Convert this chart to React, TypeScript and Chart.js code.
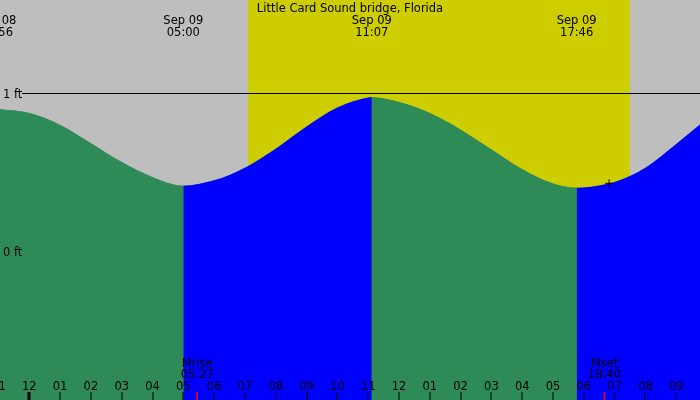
import React, { useEffect, useRef } from "react";
import { Chart, registerables } from "chart.js";

Chart.register(...registerables);

// hours counted from midnight Sep 09 (negative = Sep 08)
const tideHours = [-1, 0, 1, 2, 3, 4, 5, 6, 7, 8, 9, 10, 11, 11.117, 12, 13, 14, 15, 16, 17, 17.767, 18, 19, 20, 21, 22];
const tideFeet = [0.9, 0.875, 0.8, 0.685, 0.565, 0.47, 0.416, 0.45, 0.53, 0.65, 0.79, 0.91, 0.973, 0.975, 0.945, 0.875, 0.77, 0.645, 0.52, 0.43, 0.403, 0.405, 0.44, 0.53, 0.68, 0.84];

const extremeHours = [-1.067, 5.0, 11.117, 17.767];
const extremeDates = ["Sep 08", "Sep 09", "Sep 09", "Sep 09"];
const extremeTimes = ["22:56", "05:00", "11:07", "17:46"];

const moonHours = [5.45, 18.667];
const moonNames = ["Mrise", "Mset"];
const moonTimes = ["05:27", "18:40"];

const sunrise = 7.1;
const sunset = 19.5;

const hourTicks = [-1, 0, 1, 2, 3, 4, 5, 6, 7, 8, 9, 10, 11, 12, 13, 14, 15, 16, 17, 18, 19, 20, 21, 22];
const hourLabels = ["11", "12", "01", "02", "03", "04", "05", "06", "07", "08", "09", "10", "11", "12", "01", "02", "03", "04", "05", "06", "07", "08", "09", "10"];

const footLevels = [1, 0];
const footLabels = ["1 ft", "0 ft"];

const markerHours = [18.82];
const markerFeet = [0.431];

const title = "Little Card Sound bridge, Florida";

const NIGHT = "#bebebe";
const DAY = "#cdcd00";
const FALLING = "#2e8b57";
const RISING = "#0000ff";
const FONT = "11.5px 'DejaVu Sans'";

const decor = {
  id: "tideDecor",
  beforeDatasetsDraw(chart: any) {
    const { ctx, chartArea: a, scales } = chart;
    const x = scales.x;
    ctx.save();
    ctx.fillStyle = NIGHT;
    ctx.fillRect(a.left, a.top, a.width, a.height);
    const x0 = x.getPixelForValue(sunrise);
    const x1 = x.getPixelForValue(sunset);
    ctx.fillStyle = DAY;
    ctx.fillRect(x0, a.top, x1 - x0, a.height);
    ctx.restore();
  },
  afterDatasetsDraw(chart: any) {
    const { ctx, chartArea: a, scales } = chart;
    const x = scales.x;
    const y = scales.y;
    ctx.save();
    ctx.font = FONT;
    ctx.fillStyle = "#000";
    ctx.textBaseline = "alphabetic";

    // 1 ft line and level labels
    const y1 = Math.round(y.getPixelForValue(1)) + 0.5;
    ctx.strokeStyle = "#000";
    ctx.lineWidth = 1;
    ctx.beginPath();
    ctx.moveTo(22, y1);
    ctx.lineTo(a.right, y1);
    ctx.stroke();
    ctx.textAlign = "left";
    footLevels.forEach((lv, i) => {
      ctx.fillText(footLabels[i], 3, y.getPixelForValue(lv) + 4.5);
    });

    // title
    ctx.textAlign = "center";
    ctx.fillText(title, (a.left + a.right) / 2, 12);

    // high / low labels
    extremeHours.forEach((h, i) => {
      const px = x.getPixelForValue(h);
      ctx.fillText(extremeDates[i], px, 24);
      ctx.fillText(extremeTimes[i], px, 36);
    });

    // moon labels and red ticks
    moonHours.forEach((h, i) => {
      const px = x.getPixelForValue(h);
      ctx.fillText(moonNames[i], px, 366.5);
      ctx.fillText(moonTimes[i], px, 378);
      ctx.fillStyle = "#ff0000";
      ctx.fillRect(Math.round(px) - 0.5, 392, 1.5, 8);
      ctx.fillStyle = "#000";
    });

    // hour ticks
    hourTicks.forEach((h, i) => {
      const px = x.getPixelForValue(h);
      ctx.fillText(hourLabels[i], px, 390);
      if (h === 0) {
        ctx.fillRect(Math.round(px) - 1.5, 392, 3, 8);
      } else {
        ctx.fillRect(Math.round(px) - 0.5, 392, 1, 8);
      }
    });
    ctx.restore();
  },
};

export default function App() {
  const canvasRef = useRef<HTMLCanvasElement | null>(null);

  useEffect(() => {
    if (!canvasRef.current) return;
    const tidePoints = tideHours.map((h, i) => ({ x: h, y: tideFeet[i] }));
    const chart = new Chart(canvasRef.current, {
      type: "line",
      data: {
        datasets: [
          {
            label: "tide",
            data: tidePoints,
            fill: "start",
            borderWidth: 0,
            pointRadius: 0,
            cubicInterpolationMode: "monotone",
            backgroundColor: FALLING,
            segment: {
              backgroundColor: (c: any) => (c.p1.parsed.y > c.p0.parsed.y ? RISING : FALLING),
            },
            order: 1,
          },
          {
            // plain underlay so that no background shows through the seams
            label: "underlay",
            data: tidePoints,
            fill: "start",
            borderWidth: 0,
            pointRadius: 0,
            cubicInterpolationMode: "monotone",
            backgroundColor: FALLING,
            order: 2,
          },
          {
            label: "marker",
            data: markerHours.map((h, i) => ({ x: h, y: markerFeet[i] })),
            showLine: false,
            pointStyle: "cross",
            pointRadius: 4,
            pointHoverRadius: 4,
            borderColor: "#000",
            borderWidth: 1,
            order: 0,
          },
        ],
      },
      options: {
        animation: false,
        responsive: false,
        events: [],
        layout: { padding: 0, autoPadding: false },
        plugins: { legend: { display: false }, tooltip: { enabled: false } },
        scales: {
          x: { type: "linear", min: -0.951, max: 21.77, display: false },
          y: { type: "linear", min: -0.939, max: 1.59, display: false },
        },
      },
      plugins: [decor],
    } as any);
    return () => chart.destroy();
  }, []);

  return (
    <div style={{ position: "absolute", left: 0, top: 0, width: 700, height: 400 }}>
      <canvas ref={canvasRef} width={700} height={400} />
    </div>
  );
}
